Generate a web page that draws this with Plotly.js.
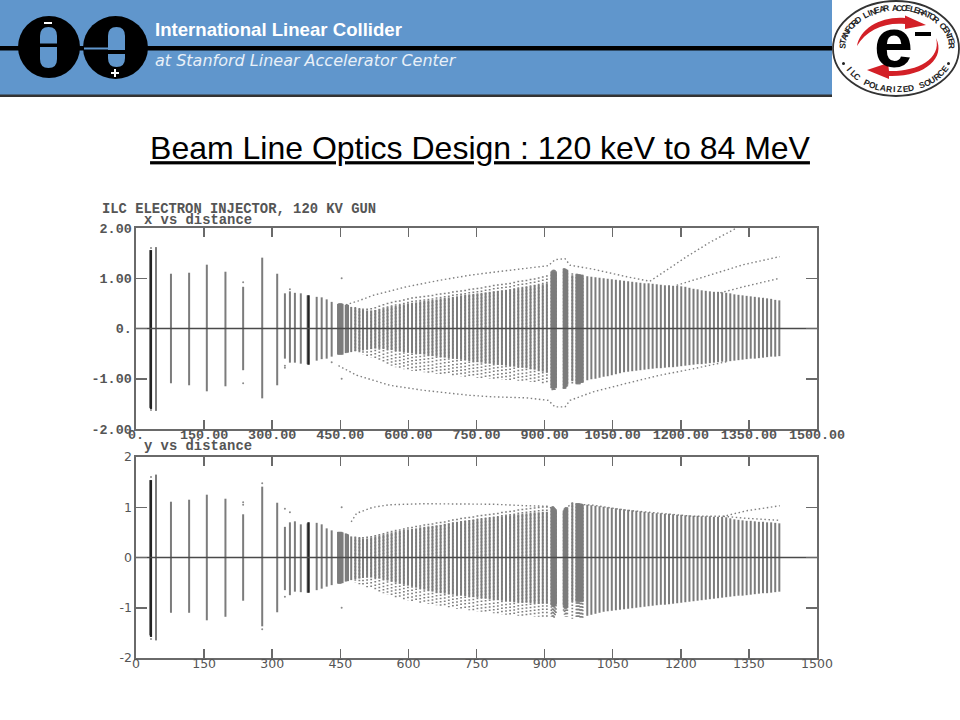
<!DOCTYPE html>
<html>
<head>
<meta charset="utf-8">
<script src="https://cdn.plot.ly/plotly-3.0.1.min.js"></script>
<style>html,body{margin:0;padding:0;background:#fff}#chart{width:960px;height:720px}</style>
</head>
<body>
<div id="chart"></div>
<script>
// ---------- distances of the beam line elements (m) ----------
var sparseDist = [31,33,44,77,117,156,197,236,278,311,328,339,350,363,378,380,398,409,420,431,445,447,449,451,453,455,462,465,467,474];
var denseDist = [483,492,500,509,518,527,536,545,554,563,572,581,590,599,608,617,626,635,644,653,662,671,680,689,698,707,716,725,734,743,752,761,770,779,788,797,806,815,824,833,842,851,860,869,878,887,896,905];
var blockDist = [915,917,919,921,923,925,942,944,946,948,950,961,970,972,974,976,978,980,982,984];
var tailDist = [994,1003,1012,1021,1030,1039,1048,1057,1066,1075,1084,1093,1102,1111,1120,1129,1138,1147,1156,1165,1174,1183,1192,1201,1210,1219,1228,1237,1246,1255,1264,1273,1282,1291,1300,1309,1318,1327,1336,1345,1354,1363,1372,1381,1390,1399,1408,1417];

// ---------- x vs distance: solid extents ----------
var xSparseTop = [1.56,1.56,1.62,1.09,1.11,1.27,1.13,.83,1.41,1.09,.70,.74,.71,.70,.66,.66,.63,.62,.58,.53,.49,.50,.50,.50,.50,.49,.47,.48,.47,.43];
var xSparseBot = [-1.58,-1.60,-1.64,-1.09,-1.13,-1.25,-1.15,-.83,-1.39,-1.13,-.60,-.68,-.68,-.70,-.71,-.72,-.64,-.61,-.60,-.56,-.52,-.52,-.52,-.52,-.52,-.52,-.49,-.48,-.48,-.47];
var xDenseTop = [.41,.39,.37,.36,.36,.37,.38,.40,.42,.44,.45,.47,.48,.50,.51,.52,.54,.55,.56,.57,.58,.60,.61,.62,.63,.64,.66,.67,.68,.69,.70,.71,.72,.73,.74,.75,.76,.77,.78,.79,.80,.81,.83,.84,.86,.87,.88,.90];
var xDenseBot = [-.45,-.45,-.44,-.42,-.41,-.40,-.40,-.41,-.42,-.43,-.45,-.46,-.47,-.48,-.49,-.50,-.51,-.52,-.54,-.55,-.56,-.57,-.58,-.59,-.60,-.61,-.62,-.63,-.65,-.66,-.67,-.68,-.69,-.70,-.71,-.72,-.73,-.74,-.75,-.76,-.77,-.78,-.79,-.81,-.82,-.84,-.86,-.88];
var xBlockTop = [1.12,1.14,1.14,1.14,1.13,1.12,1.18,1.18,1.17,1.16,1.15,1.06,1.07,1.07,1.07,1.06,1.06,1.06,1.05,1.05];
var xBlockBot = [-1.18,-1.20,-1.20,-1.20,-1.19,-1.17,-1.20,-1.19,-1.18,-1.16,-1.12,-1.05,-1.09,-1.09,-1.09,-1.09,-1.09,-1.08,-1.08,-1.08];
var xTailTop = [1.04,1.03,1.02,1.01,1.00,.99,.98,.97,.96,.95,.94,.93,.92,.91,.90,.90,.89,.88,.87,.86,.86,.85,.85,.84,.83,.81,.79,.78,.76,.75,.74,.73,.73,.72,.71,.70,.68,.67,.66,.65,.64,.63,.62,.61,.60,.59,.57,.56];
var xTailBot = [-1.03,-1.01,-1.00,-.98,-.96,-.95,-.93,-.91,-.89,-.87,-.86,-.85,-.84,-.83,-.82,-.81,-.80,-.79,-.79,-.78,-.77,-.77,-.76,-.75,-.74,-.73,-.72,-.71,-.71,-.70,-.69,-.68,-.67,-.66,-.66,-.65,-.64,-.63,-.62,-.61,-.60,-.60,-.59,-.58,-.57,-.56,-.56,-.55];

// ---------- x vs distance: dotted fringes ----------
var xDenseDotTop = [.43,.41,.40,.40,.41,.43,.46,.49,.51,.53,.55,.56,.58,.60,.62,.63,.64,.65,.66,.67,.69,.70,.71,.72,.74,.75,.76,.77,.79,.80,.81,.82,.84,.85,.87,.88,.89,.90,.91,.93,.95,.96,.97,.99,1.00,1.02,1.04,1.06];
var xDenseDotBot = [-.49,-.50,-.52,-.55,-.58,-.60,-.63,-.66,-.70,-.74,-.77,-.79,-.81,-.83,-.84,-.85,-.86,-.87,-.88,-.89,-.90,-.91,-.92,-.92,-.93,-.94,-.95,-.96,-.96,-.97,-.98,-.99,-1.00,-1.00,-1.01,-1.01,-1.02,-1.02,-1.03,-1.03,-1.04,-1.05,-1.05,-1.06,-1.07,-1.08,-1.09,-1.10];
var xBlockDotTop = [1.14,1.16,1.17,1.17,1.16,1.14,1.20,1.20,1.19,1.18,1.17,1.10,1.09,1.09,1.08,1.08,1.08,1.07,1.07,1.07];
var xBlockDotBot = [-1.22,-1.23,-1.24,-1.24,-1.22,-1.20,-1.22,-1.22,-1.20,-1.18,-1.15,-1.12,-1.12,-1.12,-1.11,-1.11,-1.11,-1.10,-1.10,-1.10];

// ---------- x vs distance: outlying ray envelopes ----------
var xUpperDist = [462,490,522,596,669,735,787,860,908,923,945,956,1007,1081,1132];
var xUpperVals = [.47,.55,.66,.83,.96,1.06,1.12,1.19,1.25,1.37,1.39,1.26,1.18,1.03,.94];
var xRayADist = [1132,1213,1265,1323];
var xRayAVals = [.94,1.43,1.72,2.0];
var xRayBDist = [1191,1265,1338,1418];
var xRayBVals = [.86,1.06,1.27,1.43];
var xRayCDist = [1287,1338,1418];
var xRayCVals = [.71,.83,1.0];
var xLowerDist = [446,486,559,633,735,787,860,908,923,945,956,1007,1081,1154,1228,1301];
var xLowerVals = [-.74,-.93,-1.13,-1.23,-1.33,-1.36,-1.38,-1.43,-1.56,-1.56,-1.43,-1.26,-1.09,-.93,-.80,-.66];
var xDotDist = [33,33,236,236,328,328,339,431,453,453];
var xDotVals = [1.60,-1.62,.92,-1.09,-.74,-.78,.78,-.67,1.0,-1.0];

// ---------- y vs distance: solid extents ----------
var ySparseTop = [1.54,1.54,1.65,1.11,1.15,1.25,1.17,.86,1.41,1.09,.61,.70,.72,.66,.68,.70,.69,.66,.58,.54,.51,.51,.51,.51,.51,.50,.48,.47,.46,.42];
var ySparseBot = [-1.55,-1.58,-1.65,-1.10,-1.10,-1.25,-1.18,-.86,-1.37,-1.09,-.65,-.75,-.68,-.69,-.70,-.70,-.65,-.62,-.58,-.55,-.52,-.52,-.52,-.52,-.51,-.51,-.48,-.47,-.47,-.45];
var yDenseTop = [.40,.39,.38,.38,.40,.42,.44,.46,.48,.50,.52,.53,.55,.56,.57,.58,.60,.61,.62,.63,.64,.65,.67,.68,.70,.71,.72,.73,.74,.75,.76,.77,.78,.79,.80,.81,.82,.83,.84,.85,.86,.87,.88,.89,.90,.90,.91,.91];
var yDenseBot = [-.43,-.42,-.41,-.40,-.40,-.41,-.42,-.44,-.46,-.48,-.50,-.52,-.54,-.56,-.58,-.60,-.62,-.64,-.66,-.68,-.70,-.71,-.72,-.73,-.74,-.75,-.76,-.77,-.78,-.79,-.80,-.81,-.82,-.83,-.84,-.85,-.86,-.87,-.88,-.89,-.89,-.90,-.90,-.91,-.91,-.92,-.92,-.92];
var yBlockTop = [.98,1.00,1.00,.98,.96,.94,.92,.96,.98,.98,.98,1.08,1.07,1.07,1.07,1.07,1.06,1.06,1.06,1.05];
var yBlockBot = [-.95,-.97,-.98,-.98,-.96,-.94,-.96,-1.00,-1.02,-1.02,-1.00,-.88,-.88,-.88,-.88,-.88,-.88,-.88,-.88,-.88];
var yTailTop = [1.05,1.04,1.03,1.02,1.01,1.00,.99,.98,.97,.96,.95,.94,.93,.92,.91,.90,.89,.88,.88,.87,.87,.86,.85,.85,.84,.84,.83,.83,.82,.82,.82,.81,.81,.81,.80,.78,.76,.75,.74,.73,.73,.72,.71,.71,.70,.70,.69,.68];
var yTailBot = [-1.16,-1.14,-1.12,-1.10,-1.08,-1.07,-1.06,-1.05,-1.04,-1.03,-1.02,-1.01,-1.00,-.99,-.98,-.97,-.96,-.95,-.94,-.94,-.93,-.92,-.91,-.90,-.89,-.88,-.87,-.86,-.85,-.84,-.83,-.82,-.81,-.80,-.79,-.78,-.77,-.76,-.76,-.75,-.74,-.73,-.72,-.71,-.71,-.70,-.69,-.68];

// ---------- y vs distance: dotted fringes ----------
var yDenseDotTop = [.42,.41,.41,.42,.43,.45,.47,.49,.51,.53,.55,.56,.58,.60,.61,.63,.64,.66,.67,.68,.70,.71,.72,.74,.76,.77,.79,.80,.81,.82,.84,.85,.86,.87,.88,.89,.91,.92,.93,.94,.96,.97,.98,.99,1.00,1.01,1.02,1.02];
var yDenseDotBot = [-.50,-.53,-.56,-.59,-.62,-.65,-.68,-.71,-.74,-.77,-.79,-.81,-.83,-.85,-.87,-.88,-.90,-.91,-.92,-.94,-.95,-.97,-.98,-.99,-1.00,-1.02,-1.03,-1.04,-1.05,-1.06,-1.07,-1.08,-1.09,-1.10,-1.11,-1.12,-1.13,-1.14,-1.15,-1.15,-1.16,-1.16,-1.17,-1.17,-1.18,-1.18,-1.19,-1.20];
var yBlockDotTop = [1.00,1.02,1.02,1.00,.98,.96,.94,.98,1.00,1.00,1.00,1.10,1.08,1.08,1.08,1.08,1.07,1.07,1.07,1.06];
var yBlockDotBot = [-1.18,-1.20,-1.20,-1.20,-1.18,-1.12,-1.08,-1.14,-1.18,-1.18,-1.18,-1.22,-1.22,-1.22,-1.21,-1.21,-1.21,-1.21,-1.20,-1.20];

// ---------- y vs distance: outlying ray envelopes ----------
var yUpperADist = [474,486,522,559,633,735,787,860,908,923];
var yUpperAVals = [.71,.88,1.0,1.05,1.07,1.07,1.06,1.03,1.02,.94];
var yUpperBDist = [945,960,1007,1081,1154,1228,1294,1345,1418];
var yUpperBVals = [.97,1.07,1.04,.94,.88,.82,.82,.93,1.03];
var yRayDist = [1294,1345,1418];
var yRayVals = [.82,.78,.74];
var yDotDist = [33,33,236,236,278,278,328,339,328,453,453];
var yDotVals = [1.60,-1.62,1.05,1.10,1.48,-1.43,.97,.90,-.78,1.0,-1.0];

// ---------- axis labels and text ----------
var tickVals = [0,150,300,450,600,750,900,1050,1200,1350,1500];
var xTickTextTop = ["0.","150.00","300.00","450.00","600.00","750.00","900.00","1050.00","1200.00","1350.00","1500.00"];
var xTickTextBottom = ["0","150","300","450","600","750","900","1050","1200","1350","1500"];
var yTickVals = [-2,-1,0,1,2];
var yTickTextTop = ["-2.00","-1.00","0.","1.00","2.00"];
var yTickTextBottom = ["-2","-1","0","1","2"];
var mainTitle = "Beam Line Optics Design : 120 keV to 84 MeV";
var sealTop = "STANFORD LINEAR ACCELERATOR CENTER";
var sealBottom = "ILC POLARIZED SOURCE";

// ---------- helpers ----------
var W = 960, H = 720;
var BAR = "#7c7c7c", BLUE = "#6096cc", RED = "#d32027";
function bars(d, lo, hi){
  var x=[], y=[];
  d.forEach(function(v,i){ x.push(v,v,null); y.push(lo[i],hi[i],null); });
  return {x:x,y:y};
}
function barTrace(d,lo,hi,ax,ay,color,width,dash){
  var b = bars(d,lo,hi);
  return {type:"scatter",mode:"lines",x:b.x,y:b.y,xaxis:ax,yaxis:ay,hoverinfo:"skip",
          line:{color:color,width:width,dash:dash||"solid"}};
}
function rayTrace(d,v,ax,ay){
  return {type:"scatter",mode:"lines",x:d,y:v,xaxis:ax,yaxis:ay,hoverinfo:"skip",
          line:{color:"#808080",width:1.4,dash:"1.5px,2.6px"}};
}
function dotTrace(d,v,ax,ay){
  return {type:"scatter",mode:"markers",x:d,y:v,xaxis:ax,yaxis:ay,hoverinfo:"skip",
          marker:{color:"#8a8a8a",size:2}};
}
function panel(ax,ay,sT,sB,dT,dB){
  var out = [];
  var fd = denseDist.concat(blockDist);
  out.push(barTrace(fd,dT,dB,ax,ay,"#808080",1.8,"1.5px,1.8px"));
  var all = sparseDist.concat(denseDist,blockDist,tailDist);
  out.push(barTrace(all,sB,sT,ax,ay,BAR,2));
  var heavy = [1,15];
  out.push(barTrace(heavy.map(function(i){return sparseDist[i];}),
                    heavy.map(function(i){return sB[i];}),
                    heavy.map(function(i){return sT[i];}),ax,ay,"#222",2.2));
  return out;
}

var data = [];
data = data.concat(panel("x","y",
  xSparseTop.concat(xDenseTop,xBlockTop,xTailTop),
  xSparseBot.concat(xDenseBot,xBlockBot,xTailBot),
  xDenseDotTop.concat(xBlockDotTop), xDenseDotBot.concat(xBlockDotBot)));
data.push(rayTrace(xUpperDist,xUpperVals,"x","y"),rayTrace(xRayADist,xRayAVals,"x","y"),
          rayTrace(xRayBDist,xRayBVals,"x","y"),rayTrace(xRayCDist,xRayCVals,"x","y"),
          rayTrace(xLowerDist,xLowerVals,"x","y"),dotTrace(xDotDist,xDotVals,"x","y"));
data = data.concat(panel("x2","y2",
  ySparseTop.concat(yDenseTop,yBlockTop,yTailTop),
  ySparseBot.concat(yDenseBot,yBlockBot,yTailBot),
  yDenseDotTop.concat(yBlockDotTop), yDenseDotBot.concat(yBlockDotBot)));
data.push(rayTrace(yUpperADist,yUpperAVals,"x2","y2"),rayTrace(yUpperBDist,yUpperBVals,"x2","y2"),
          rayTrace(yRayDist,yRayVals,"x2","y2"),dotTrace(yDotDist,yDotVals,"x2","y2"));
[["x","y"],["x2","y2"]].forEach(function(p){
  data.push({type:"scatter",mode:"lines",x:[0,1500],y:[0,0],xaxis:p[0],yaxis:p[1],hoverinfo:"skip",
             line:{color:"#4a4a4a",width:1.4}});
});
data.push({type:"scatter",mode:"markers",x:[],y:[],xaxis:"x3",yaxis:"y3",hoverinfo:"skip"});
data.forEach(function(t){t.showlegend=false;});

function xAxis(text,font,anchor,standoff){
  return {domain:[136/W,817/W],range:[0,1500],anchor:anchor,tickmode:"array",tickvals:tickVals,ticktext:text,
          ticks:"inside",ticklen:9,tickwidth:1.5,tickcolor:"#6a6a6a",mirror:"allticks",showline:true,
          linecolor:"#6a6a6a",linewidth:1.6,showgrid:false,zeroline:false,tickangle:0,fixedrange:true,
          tickfont:font,ticklabelstandoff:standoff};
}
function yAxis(text,font,anchor,dom){
  return {domain:dom,range:[-2,2],anchor:anchor,tickmode:"array",tickvals:yTickVals,ticktext:text,
          ticks:"inside",ticklen:11,tickwidth:1.5,tickcolor:"#6a6a6a",mirror:"allticks",showline:true,
          linecolor:"#6a6a6a",linewidth:1.6,showgrid:false,zeroline:false,fixedrange:true,tickfont:font};
}
var monoFont = {family:"Liberation Mono",size:13.4,color:"#555",weight:700};
var sansFont = {family:"DejaVu Sans",size:12.5,color:"#555"};

function shape(o){ o.xref="x3"; o.yref="y3"; if(!o.line) o.line={width:0}; return o; }
var shapes = [
  shape({type:"rect",x0:0,x1:832,y0:0,y1:95,fillcolor:BLUE}),
  shape({type:"rect",x0:0,x1:832,y0:94.5,y1:97,fillcolor:"#333"}),
  shape({type:"rect",x0:0,x1:832,y0:46,y1:50.5,fillcolor:"#000"}),
  shape({type:"circle",x0:18,x1:80,y0:16,y1:78,fillcolor:"#000"}),
  shape({type:"circle",x0:83,x1:148,y0:16,y1:79,fillcolor:"#000"}),
  shape({type:"path",path:"M40 36 Q40 27 48.5 27 Q57 27 57 36 L57 59 Q57 68 48.5 68 Q40 68 40 59 Z",fillcolor:BLUE}),
  shape({type:"path",path:"M108 36 Q108 27 116.5 27 Q125 27 125 36 L125 58 Q125 67 116.5 67 Q108 67 108 58 Z",fillcolor:BLUE}),
  shape({type:"rect",x0:39,x1:58,y0:43.5,y1:47,fillcolor:"#000"}),
  shape({type:"rect",x0:107,x1:126,y0:50,y1:54,fillcolor:"#000"}),
  shape({type:"rect",x0:84,x1:108,y0:47.5,y1:49.5,fillcolor:BLUE}),
  shape({type:"rect",x0:44,x1:52,y0:22,y1:24,fillcolor:"#fff"}),
  shape({type:"rect",x0:111,x1:119,y0:72,y1:74,fillcolor:"#fff"}),
  shape({type:"rect",x0:114,x1:116,y0:69,y1:77,fillcolor:"#fff"}),
  // seal
  shape({type:"circle",x0:833,x1:959,y0:1,y1:96,fillcolor:"#fff",line:{color:"#333",width:1.8}}),
  shape({type:"path",path:"M857 46 C860 28 882 16 905 18 L905 15.5 L926 25 L905 29 L905 24 C885 22 866 30 857 46 Z",fillcolor:RED}),
  shape({type:"path",path:"M936 38 C946 58 925 77 889 76 L889 79 L867 70 L888 63 L889 71 C915 72 942 60 936 38 Z",fillcolor:RED}),
  shape({type:"rect",x0:915,x1:931,y0:32,y1:36,fillcolor:"#000"}),
  shape({type:"circle",x0:842,x1:845,y0:62,y1:65,fillcolor:"#222"}),
  shape({type:"circle",x0:947,x1:950,y0:62,y1:65,fillcolor:"#222"})
];

function note(text,x,y,font,xa,ya,rot){
  return {xref:"x3",yref:"y3",x:x,y:y,text:text,showarrow:false,font:font,
          xanchor:xa||"left",yanchor:ya||"middle",textangle:rot||0,borderpad:0,captureevents:false};
}
var annotations = [
  note("International Linear Collider",154,29,{family:"Liberation Sans",size:18.6,color:"#fff",weight:700}),
  note("<i>at Stanford Linear Accelerator Center</i>",154,60,{family:"DejaVu Sans",size:16,color:"#e8f0f8"}),
  note("ILC ELECTRON INJECTOR, 120 KV GUN",101,208.5,{family:"Liberation Mono",size:13.85,color:"#555",weight:700}),
  note("x vs distance",143,219.5,{family:"Liberation Mono",size:13.85,color:"#555",weight:700}),
  note("y vs distance",143,445.5,{family:"Liberation Mono",size:13.85,color:"#555",weight:700}),
  note("e",893,43,{family:"Liberation Sans",size:70,color:"#000",weight:700},"center","middle")
];
// letters of the seal's ring, spaced evenly along the ellipse
function sealText(str,t0,t1,rx,ry,bottom){
  var chars = str.split(""), steps = 720, len = [0];
  function pt(a){ return [897+rx*Math.cos(a),48.5+ry*Math.sin(a)]; }
  for(var s=1;s<=steps;s++){
    var a0=(t0+(t1-t0)*(s-1)/steps)*Math.PI/180, a1=(t0+(t1-t0)*s/steps)*Math.PI/180;
    var p0=pt(a0), p1=pt(a1);
    len.push(len[s-1]+Math.hypot(p1[0]-p0[0],p1[1]-p0[1]));
  }
  chars.forEach(function(ch,i){
    if(ch===" ") return;
    var want = len[steps]*i/(chars.length-1), k = 0;
    while(k<steps && len[k]<want) k++;
    var t = (t0+(t1-t0)*k/steps)*Math.PI/180, p = pt(t);
    var rot = bottom ? Math.atan2(-ry*Math.cos(t),rx*Math.sin(t)) : Math.atan2(ry*Math.cos(t),-rx*Math.sin(t));
    annotations.push(note(ch,p[0],p[1],{family:"Liberation Sans",size:8.5,color:"#222",weight:700},"center","middle",rot*180/Math.PI));
  });
}
sealText(sealTop,184,356,55,41,false);
sealText(sealBottom,150,30,55,41,true);

var layout = {
  width:W,height:H,margin:{l:0,r:0,t:0,b:0},paper_bgcolor:"#fff",plot_bgcolor:"rgba(0,0,0,0)",showlegend:false,
  title:{text:"<u>"+mainTitle+"</u>",x:0.5,xanchor:"center",xref:"paper",y:1-148/H,yanchor:"middle",yref:"paper",
         font:{family:"Liberation Sans",size:32,color:"#000"}},
  xaxis:xAxis(xTickTextTop,monoFont,"y",-8),
  yaxis:yAxis(yTickTextTop,monoFont,"x",[1-429/H,1-228/H]),
  xaxis2:xAxis(xTickTextBottom,sansFont,"y2",-7),
  yaxis2:yAxis(yTickTextBottom,sansFont,"x2",[1-658/H,1-457/H]),
  xaxis3:{domain:[0,1],range:[0,W],visible:false,fixedrange:true,anchor:"y3"},
  yaxis3:{domain:[0,1],range:[H,0],visible:false,fixedrange:true,anchor:"x3"},
  shapes:shapes,annotations:annotations
};
Plotly.newPlot("chart",data,layout,{displayModeBar:false,staticPlot:true});
</script>
</body>
</html>
